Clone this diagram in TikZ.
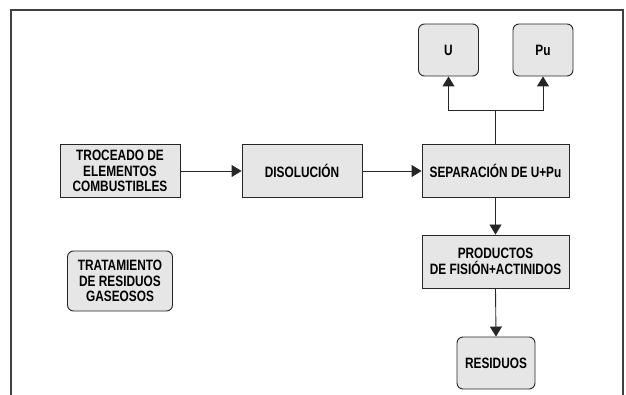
\documentclass[tikz,border=0pt]{standalone}
\usepackage{fontspec}
\newfontfamily\boxfont{Liberation Sans}[FakeStretch=0.79]
\usetikzlibrary{arrows.meta}
\definecolor{boxfill}{HTML}{E6E6E6}
\definecolor{frameline}{HTML}{404040}
\begin{document}
\begin{tikzpicture}[x=1pt,y=-1pt,
  blk/.style={draw=black!85,fill=boxfill,line width=0.9pt,align=center,inner sep=0pt,
    font=\boxfont\bfseries\fontsize{15}{15.5}\selectfont},
  rblk/.style={blk,rounded corners=6pt},
  conn/.style={line width=0.9pt,draw=black!85,-{Triangle[length=10pt,width=12pt]}},
  plain/.style={line width=0.9pt,draw=black!85}]
\useasboundingbox (0,0) rectangle (626,395);
\draw[frameline,line width=1.2pt] (11,395) -- (11,10) -- (623,10) -- (623,395);
\node[blk,minimum width=120pt,minimum height=53pt] (troc) at (120,171) {TROCEADO DE\\ELEMENTOS\\COMBUSTIBLES};
\node[blk,minimum width=120pt,minimum height=53pt] (disol) at (302,171) {DISOLUCIÓN};
\node[blk,minimum width=147pt,minimum height=53pt] (sep) at (495.5,171) {SEPARACIÓN DE U+Pu};
\node[rblk,minimum width=60pt,minimum height=52pt] (U) at (448.5,50) {U};
\node[rblk,minimum width=60pt,minimum height=52pt] (Pu) at (543,50) {Pu};
\node[blk,minimum width=147pt,minimum height=53pt] (prod) at (495.5,261.5) {PRODUCTOS\\DE FISIÓN+ACTINIDOS};
\node[rblk,minimum width=78pt,minimum height=52pt] (res) at (496,363) {RESIDUOS};
\node[rblk,minimum width=105pt,minimum height=60pt] (trat) at (120,281) {TRATAMIENTO\\DE RESIDUOS\\GASEOSOS};
\coordinate (j) at (495.5,110);
\draw[conn] (troc.east) -- (disol.west);
\draw[conn] (disol.east) -- (sep.west);
\draw[plain] (sep.north) -- (j);
\draw[conn] (j) -| (U.south);
\draw[conn] (j) -| (Pu.south);
\draw[conn] (sep.south) -- (prod.north);
\draw[conn] (prod.south) -- (res.north);
\end{tikzpicture}
\end{document}
